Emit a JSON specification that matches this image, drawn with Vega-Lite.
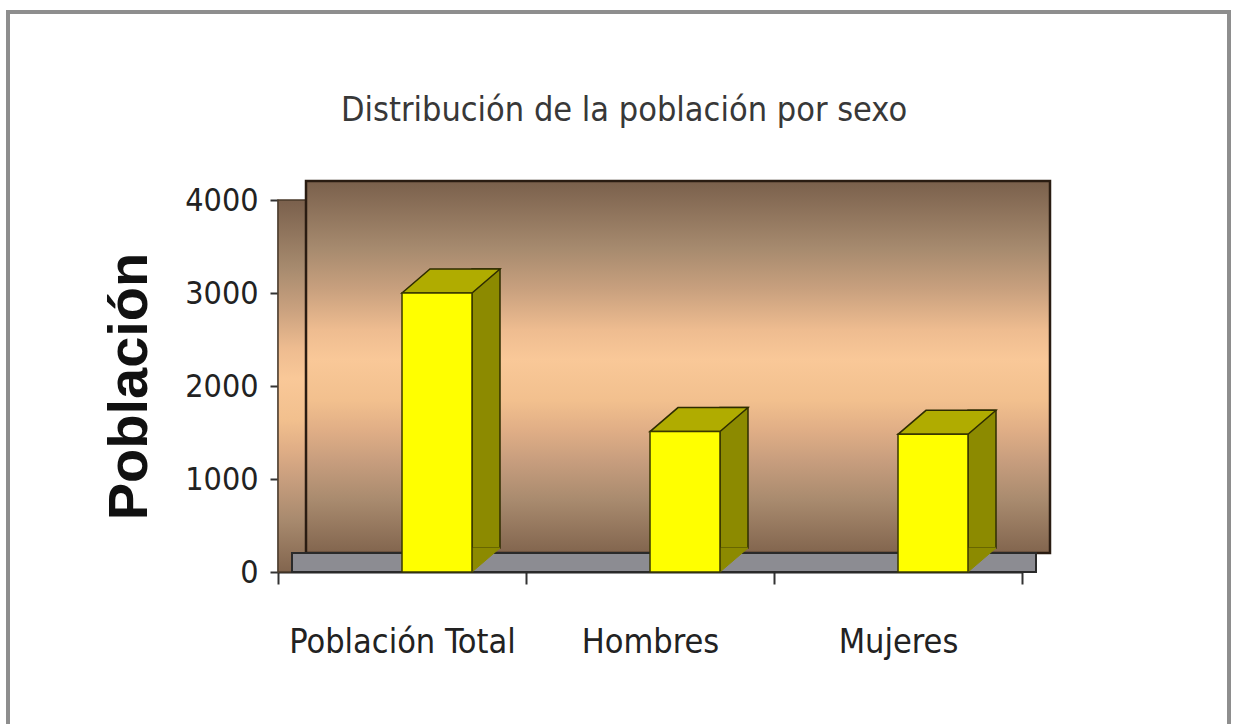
{
  "$schema": "https://vega.github.io/schema/vega-lite/v6.json",
  "autosize": "none",
  "width": 744,
  "height": 372,
  "padding": {"left": 278, "top": 200, "right": 213, "bottom": 152},
  "background": "white",
  "config": {"view": {"stroke": null}},
  "title": {
    "text": "Distribución de la población por sexo",
    "font": "DejaVu Sans Condensed, sans-serif",
    "fontSize": 34,
    "fontWeight": "normal",
    "color": "#383838",
    "frame": "group",
    "baseline": "alphabetic",
    "offset": 0,
    "dy": 145,
    "dx": -26
  },
  "data": {
    "values": [
      {"categoria": "Población Total", "poblacion": 3000},
      {"categoria": "Hombres", "poblacion": 1510},
      {"categoria": "Mujeres", "poblacion": 1480}
    ]
  },
  "resolve": {"scale": {"x": "independent"}},
  "layer": [
    {
      "transform": [{"filter": "datum.categoria === 'Hombres'"}],
      "encoding": {
        "x": {"datum": 0, "type": "quantitative", "scale": {"domain": [0, 1], "nice": false, "zero": false}, "axis": null},
        "x2": {"datum": 1}
      },
      "layer": [
        {
          "mark": {"type": "rect", "fill": null, "stroke": "#8e8e8e", "strokeWidth": 4,
            "xOffset": -270, "x2Offset": 207, "yOffset": -188, "y2Offset": 200},
          "encoding": {"y": {"datum": 4000, "type": "quantitative"}, "y2": {"datum": 0}}
        },
        {
          "mark": {"type": "rect", "stroke": "#4a3a2a", "strokeWidth": 1.5,
            "fill": {"gradient": "linear", "x1": 0, "y1": 0, "x2": 0, "y2": 1, "stops": [
              {"offset": 0, "color": "#7a604c"}, {"offset": 0.18, "color": "#a68a6e"},
              {"offset": 0.29, "color": "#c8a07e"}, {"offset": 0.4, "color": "#eebc90"},
              {"offset": 0.48, "color": "#f9c898"}, {"offset": 0.59, "color": "#f2c08e"},
              {"offset": 0.67, "color": "#e0ae86"}, {"offset": 0.75, "color": "#c89e7e"},
              {"offset": 0.86, "color": "#a88a6e"}, {"offset": 1, "color": "#82654e"}]}},
          "encoding": {"y": {"datum": 4000, "type": "quantitative"}, "y2": {"datum": 0}}
        },
        {
          "mark": {"type": "rect", "stroke": "#2a1c12", "strokeWidth": 2.5,
            "xOffset": 28, "x2Offset": 28, "yOffset": -19, "y2Offset": -19,
            "fill": {"gradient": "linear", "x1": 0, "y1": 0, "x2": 0, "y2": 1, "stops": [
              {"offset": 0, "color": "#7a604c"}, {"offset": 0.18, "color": "#a68a6e"},
              {"offset": 0.29, "color": "#c8a07e"}, {"offset": 0.4, "color": "#eebc90"},
              {"offset": 0.48, "color": "#f9c898"}, {"offset": 0.59, "color": "#f2c08e"},
              {"offset": 0.67, "color": "#e0ae86"}, {"offset": 0.75, "color": "#c89e7e"},
              {"offset": 0.86, "color": "#a88a6e"}, {"offset": 1, "color": "#82654e"}]}},
          "encoding": {"y": {"datum": 4000, "type": "quantitative"}, "y2": {"datum": 0}}
        },
        {
          "mark": {"type": "rect", "fill": "#8c8c92", "stroke": "#2a2a2a", "strokeWidth": 2,
            "xOffset": 14, "x2Offset": 14, "yOffset": 0, "y2Offset": -19},
          "encoding": {"y": {"datum": 0, "type": "quantitative"}, "y2": {"datum": 0}}
        }
      ]
    },
    {
      "encoding": {
        "x": {
          "field": "categoria", "type": "nominal",
          "scale": {"type": "band", "domain": ["Población Total", "Hombres", "Mujeres"], "paddingInner": 0, "paddingOuter": 0},
          "axis": {
            "title": null, "labelAngle": 0, "labelAlign": "center", "labelLimit": 400,
            "labelFont": "DejaVu Sans Condensed, sans-serif",
            "labelFontSize": 34, "labelColor": "#222222", "labelPadding": 41,
            "tickBand": "extent", "tickSize": 12, "tickColor": "#333333", "tickWidth": 2,
            "domainColor": "#222222", "domainWidth": 2
          }
        }
      },
      "layer": [
        {
          "mark": {"type": "bar", "size": 28, "xOffset": 84, "yOffset": -24, "y2Offset": -24,
            "fill": "#8c8a00", "stroke": "#2e2c00", "strokeWidth": 1.5},
          "encoding": {
            "y": {"field": "poblacion", "type": "quantitative"},
            "y2": {"datum": 0}
          }
        },
        {
          "mark": {"type": "point", "shape": "M 70 -24 L 70 0 L 98 -24 Z", "size": 4, "filled": true,
            "fill": "#8c8a00", "stroke": "#8c8a00", "strokeWidth": 1, "opacity": 1},
          "encoding": {
            "y": {"datum": 0, "type": "quantitative"}
          }
        },
        {
          "mark": {"type": "point", "shape": "M 0 0 L 70 0 L 98 -24 L 28 -24 Z", "size": 4, "filled": true,
            "fill": "#b0ac00", "stroke": "#2e2c00", "strokeWidth": 1.5, "opacity": 1},
          "encoding": {
            "y": {"field": "poblacion", "type": "quantitative"}
          }
        },
        {
          "mark": {"type": "bar", "size": 70, "xOffset": 35, "fill": "#ffff00", "stroke": "#3a3800", "strokeWidth": 1.5},
          "encoding": {
            "y": {
              "field": "poblacion", "type": "quantitative",
              "scale": {"domain": [0, 4000]},
              "axis": {
                "title": "Población", "titleFont": "Liberation Sans, Arial, sans-serif",
                "titleFontSize": 56, "titleFontWeight": "bold", "titleColor": "#111111",
                "titlePadding": 26, "format": "d",
                "values": [0, 1000, 2000, 3000, 4000], "grid": false,
                "labelFont": "DejaVu Sans Condensed, sans-serif",
                "labelFontSize": 32, "labelColor": "#222222", "labelPadding": 12,
                "tickSize": 8, "tickColor": "#333333", "tickWidth": 2,
                "domainColor": "#666666", "domainWidth": 2
              }
            },
            "y2": {"datum": 0}
          }
        }
      ]
    }
  ]
}
